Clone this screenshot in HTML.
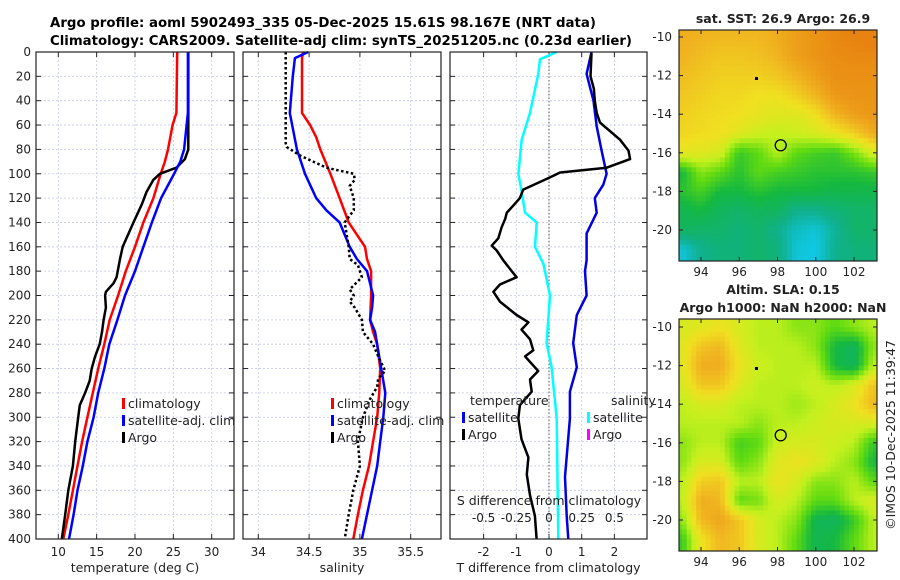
<!DOCTYPE html>
<html><head><meta charset="utf-8">
<style>
html,body{margin:0;padding:0;background:#fff;}
svg{display:block;font-family:"DejaVu Sans","Liberation Sans",sans-serif;}
</style></head>
<body>
<svg id="chart" width="900" height="580" viewBox="0 0 900 580" xmlns="http://www.w3.org/2000/svg">
<rect x="0" y="0" width="900" height="580" fill="#fff"/>
<text x="50" y="27" font-size="13" font-weight="bold" textLength="546" lengthAdjust="spacingAndGlyphs">Argo profile: aoml 5902493_335 05-Dec-2025 15.61S 98.167E (NRT data)</text>
<text x="50" y="45" font-size="13" font-weight="bold" textLength="582" lengthAdjust="spacingAndGlyphs">Climatology: CARS2009. Satellite-adj clim: synTS_20251205.nc (0.23d earlier)</text>
<g id="g"></g>
</svg>
<script>
// ---------- data ----------
const tempClimDepth = [0,50,60,80,90,100,120,140,160,180,200,220,240,260,280,300,320,340,360,380,400];
const tempClim = [25.5,25.4,24.9,24.3,23.9,23.35,22.4,21.1,20.0,18.8,17.8,16.7,16.0,15.2,14.5,13.8,13.1,12.5,11.9,11.3,10.65];
const tempSatDepth = [0,50,80,90,100,120,140,160,180,200,220,240,260,280,300,320,340,360,380,400];
const tempSat = [26.9,26.9,26.4,25.9,25.1,23.4,22.2,21.1,20.0,18.7,17.7,16.65,16.0,15.2,14.6,13.8,13.2,12.5,12.0,11.4];
const tempArgoDepth = [0,80,88,95,100,105,115,125,140,160,170,185,190,197,200,210,220,230,240,250,260,270,280,290,300,320,340,360,380,400];
const tempArgo = [26.95,26.95,26.5,25.4,23.25,22.4,21.5,20.9,19.8,18.4,18.05,17.6,17.2,16.2,16.1,16.2,15.9,15.7,15.4,14.8,14.35,14.1,13.5,12.8,12.6,12.2,11.9,11.3,10.9,10.45];

const salClimDepth = [0,5,50,60,70,80,100,120,140,160,170,180,200,220,230,240,260,280,300,320,340,360,380,400];
const salClim = [34.44,34.43,34.43,34.51,34.57,34.61,34.71,34.80,34.89,35.05,35.07,35.11,35.11,35.10,35.13,35.17,35.20,35.19,35.17,35.13,35.09,35.03,34.98,34.935];
const salSatDepth = [0,5,20,50,80,100,120,130,140,160,170,180,200,210,220,230,260,280,300,320,340,360,380,400];
const salSat = [34.49,34.36,34.34,34.31,34.38,34.46,34.57,34.67,34.80,34.90,34.97,35.07,35.13,35.12,35.10,35.15,35.21,35.25,35.23,35.20,35.17,35.12,35.07,35.02];
const salArgoDepth = [0,75,78,85,95,100,105,110,120,130,140,150,160,170,175,185,195,200,205,210,220,230,240,250,262,268,275,285,300,320,340,360,380,400];
const salArgo = [34.27,34.27,34.28,34.41,34.67,34.94,34.95,34.90,34.94,34.94,34.85,34.87,34.89,34.90,34.98,35.02,34.90,34.94,34.90,34.95,35.02,35.03,35.13,35.18,35.25,35.18,35.17,35.10,35.03,34.98,35.00,34.935,34.89,34.85];

const dTArgoDepth = [1,20,30,40,50,58,72,81,88,95,99,103,108,113,120,126,132,137,144,153,159,163,171,180,185,191,197,205,216,222,228,236,245,250,262,269,279,290,301,318,333,347,364,381,400];
const dTArgo = [1.30,1.27,1.37,1.40,1.46,1.56,2.17,2.43,2.48,1.76,0.34,0.03,-0.38,-0.79,-0.89,-1.09,-1.29,-1.34,-1.45,-1.55,-1.75,-1.6,-1.4,-1.14,-0.99,-1.5,-1.70,-1.5,-0.99,-0.63,-0.84,-0.58,-0.48,-0.73,-0.33,-0.58,-0.53,-0.89,-0.94,-0.84,-0.63,-0.68,-0.58,-0.43,-0.38];
const dTSatDepth = [0,18,40,61,81,100,109,120,132,149,171,180,200,208,216,239,259,279,301,349,381,400];
const dTSat = [1.30,1.15,1.36,1.46,1.61,1.76,1.66,1.40,1.46,1.15,1.15,1.10,1.15,1.00,0.85,0.74,0.85,0.64,0.64,0.49,0.54,0.59];
const dSSatDepth = [0,6,18,50,72,100,115,132,140,160,174,200,239,259,287,301,400];
const dSSat = [0.059,-0.069,-0.082,-0.145,-0.209,-0.234,-0.209,-0.183,-0.094,-0.107,-0.043,0.008,-0.018,0.02,0.046,0.059,0.071];

const depthTicks = [0,20,40,60,80,100,120,140,160,180,200,220,240,260,280,300,320,340,360,380,400];
const tempTicks = [10,15,20,25,30];
const salTicks = [34,34.5,35,35.5];
const salTickLabels = ["34","34.5","35","35.5"];
const dTTicks = [-2,-1,0,1,2];
const dSTicks = [-0.5,-0.25,0,0.25,0.5];
const dSTickLabels = ["-0.5","-0.25","0","0.25","0.5"];

const mapLons = [93,94,95,96,97,98,99,100,101,102,103];
const mapLats = [-10,-11,-12,-13,-14,-15,-16,-17,-18,-19,-20,-21];
const sstGrid = [
[0.78,0.76,0.75,0.75,0.75,0.78,0.82,0.85,0.88,0.90,0.92],
[0.76,0.74,0.72,0.72,0.73,0.76,0.82,0.85,0.87,0.88,0.88],
[0.74,0.72,0.70,0.70,0.70,0.72,0.76,0.82,0.86,0.86,0.86],
[0.72,0.70,0.68,0.68,0.66,0.66,0.70,0.76,0.84,0.85,0.85],
[0.70,0.68,0.67,0.66,0.64,0.62,0.62,0.66,0.76,0.82,0.84],
[0.68,0.67,0.66,0.62,0.58,0.56,0.58,0.60,0.64,0.70,0.78],
[0.64,0.62,0.60,0.40,0.45,0.55,0.45,0.42,0.40,0.48,0.60],
[0.35,0.50,0.45,0.38,0.45,0.42,0.40,0.38,0.38,0.38,0.40],
[0.38,0.42,0.35,0.35,0.38,0.35,0.35,0.35,0.33,0.33,0.33],
[0.32,0.35,0.30,0.28,0.30,0.30,0.22,0.22,0.25,0.28,0.28],
[0.30,0.28,0.28,0.25,0.28,0.22,0.15,0.12,0.20,0.28,0.28],
[0.12,0.22,0.25,0.25,0.28,0.25,0.12,0.10,0.22,0.25,0.25]];
const slaGrid = [
[0.60,0.62,0.65,0.60,0.55,0.55,0.50,0.50,0.45,0.50,0.55],
[0.62,0.72,0.75,0.62,0.55,0.55,0.55,0.50,0.35,0.30,0.50],
[0.62,0.78,0.78,0.65,0.58,0.55,0.55,0.55,0.35,0.30,0.55],
[0.60,0.72,0.72,0.62,0.55,0.55,0.55,0.58,0.55,0.60,0.72],
[0.55,0.60,0.60,0.55,0.55,0.55,0.52,0.55,0.60,0.65,0.75],
[0.55,0.55,0.55,0.55,0.50,0.55,0.55,0.58,0.60,0.60,0.60],
[0.50,0.55,0.55,0.42,0.45,0.58,0.60,0.60,0.58,0.55,0.40],
[0.50,0.60,0.60,0.45,0.50,0.62,0.65,0.62,0.55,0.50,0.35],
[0.55,0.70,0.72,0.55,0.55,0.65,0.60,0.50,0.50,0.55,0.45],
[0.55,0.78,0.75,0.45,0.48,0.60,0.55,0.45,0.45,0.55,0.60],
[0.50,0.75,0.80,0.72,0.60,0.55,0.50,0.32,0.30,0.40,0.55],
[0.40,0.65,0.75,0.72,0.60,0.55,0.45,0.32,0.35,0.45,0.55]];
const mapLonTicks = [94,96,98,100,102];
const mapLatTicks = [-10,-12,-14,-16,-18,-20];
const argoLon = 98.167, argoLat = -15.61;
const dotLon = 96.9, dotLat = -12.15;

// ---------- helpers ----------
const NS = "http://www.w3.org/2000/svg";
const G = document.getElementById('g');
function el(tag, attrs, parent){const e=document.createElementNS(NS,tag);for(const k in attrs)e.setAttribute(k,attrs[k]);(parent||G).appendChild(e);return e;}
function txt(x,y,s,size,anchor,parent){const t=el('text',{x:x,y:y,'font-size':size,'text-anchor':anchor||'middle',fill:'#222'},parent);t.textContent=s;return t;}

const Y0=52, Y1=539;
const yD = d => Y0 + d*(Y1-Y0)/400;

function panel(name,x0,x1,xs,ticks,labels,xlabel){
  const g=el('g',{});
  
  
  el('rect',{x:x0,y:Y0,width:x1-x0,height:Y1-Y0,fill:'#fff'},g);
  depthTicks.forEach(d=>{el('line',{x1:x0,x2:x1,y1:yD(d),y2:yD(d),stroke:'#c4c8e6','stroke-width':0.8,'stroke-dasharray':'2,2'},g);
    el('line',{x1:x0,x2:x0+5,y1:yD(d),y2:yD(d),stroke:'#222'},g);el('line',{x1:x1-5,x2:x1,y1:yD(d),y2:yD(d),stroke:'#222'},g);});
  ticks.forEach((v,i)=>{const x=xs(v);el('line',{x1:x,x2:x,y1:Y0,y2:Y1,stroke:'#c4c8e6','stroke-width':0.8,'stroke-dasharray':'2,2'},g);
    el('line',{x1:x,x2:x,y1:Y0,y2:Y0+5,stroke:'#222'},g);el('line',{x1:x,x2:x,y1:Y1-5,y2:Y1,stroke:'#222'},g);
    if(labels){const t=txt(x,556,labels[i],12,'middle',g);}});
  if(xlabel){const t=txt((x0+x1)/2,572,xlabel,12.5,'middle',g);}
  return g;
}
function line(g,depths,vals,xs,color,w,dash,name){
  const p=depths.map((d,i)=>(i?'L':'M')+xs(vals[i]).toFixed(1)+','+yD(d).toFixed(1)).join(' ');
  const e=el('path',{d:p,fill:'none',stroke:color,'stroke-width':w,'stroke-linejoin':'round'},g);
  if(dash)e.setAttribute('stroke-dasharray',dash);
  
  
}
function frame(g,x0,x1){el('rect',{x:x0,y:Y0,width:x1-x0,height:Y1-Y0,fill:'none',stroke:'#222','stroke-width':1.2},g);}
function legendItem(g,x,y,color,label,name){
  el('rect',{x:x,y:y-10,width:3,height:11,fill:color},g);
  const t=txt(x+6,y,label,12.5,'start',g);
  
  
}

depthTicks.forEach(d=>{const t=txt(31,yD(d)+4,String(d),12,'end');
  
  });

// panel 1: temperature
const xT = v => 58.3 + (v-10)*7.67;
const p1=panel('temperature-panel',36,234,xT,tempTicks,tempTicks.map(String),'temperature (deg C)');
line(p1,tempClimDepth,tempClim,xT,'#f00',2.5,null,'temp-climatology-line');
line(p1,tempArgoDepth,tempArgo,xT,'#000',2.5,null,'temp-argo-line');
line(p1,tempSatDepth,tempSat,xT,'#00f',2.5,null,'temp-satellite-line');
frame(p1,36,234);
legendItem(p1,122,408,'#f00','climatology','legend-climatology');
legendItem(p1,122,425,'#00f','satellite-adj. clim','legend-satellite');
legendItem(p1,122,442,'#000','Argo','legend-argo');

// panel 2: salinity
const xS = v => 258.3 + (v-34)*101.6;
const p2=panel('salinity-panel',243,441,xS,salTicks,salTickLabels,'salinity');
line(p2,salClimDepth,salClim,xS,'#f00',2.5,null,'sal-climatology-line');
line(p2,salSatDepth,salSat,xS,'#00f',2.5,null,'sal-satellite-line');
line(p2,salArgoDepth,salArgo,xS,'#000',2.5,'2.5,2.5','sal-argo-line');
frame(p2,243,441);
legendItem(p2,331,408,'#f00','climatology','legend-climatology');
legendItem(p2,331,425,'#00f','satellite-adj. clim','legend-satellite');
legendItem(p2,331,442,'#000','Argo','legend-argo');

// panel 3: differences
const xdT = v => 549 + v*32.7;
const xdS = v => 549 + v*4*32.7;
const p3=panel('difference-panel',450,647,xdT,dTTicks,dTTicks.map(String),'T difference from climatology');
el('line',{x1:xdT(0),x2:xdT(0),y1:Y0,y2:Y1,stroke:'#555','stroke-width':1,'stroke-dasharray':'1.5,2'},p3);
line(p3,dSSatDepth,dSSat,xdS,'#0ff',2.5,null,'sal-diff-satellite-line');
line(p3,dTSatDepth,dTSat,xdT,'#0000e0',2.5,null,'temp-diff-satellite-line');
line(p3,dTArgoDepth,dTArgo,xdT,'#000',2.5,null,'temp-diff-argo-line');
frame(p3,450,647);
txt(470,405,'temperature',12.5,'start',p3);
legendItem(p3,462,422,'#00f','satellite','legend-temp-satellite');
legendItem(p3,462,439,'#000','Argo','legend-temp-argo');
txt(611,405,'salinity',12.5,'start',p3);
legendItem(p3,587,422,'#0ff','satellite','legend-sal-satellite');
legendItem(p3,587,439,'#f0f','Argo','legend-sal-argo');
txt(549,505,'S difference from climatology',12.5,'middle',p3);
dSTicks.forEach((v,i)=>{const t=txt(xdS(v),522,dSTickLabels[i],12,'middle',p3);
  
  });

// ---------- maps ----------
const cstops=[[0.10,[16,200,230]],[0.22,[16,176,140]],[0.35,[20,184,64]],[0.46,[100,220,16]],[0.56,[196,240,30]],[0.66,[240,224,32]],[0.76,[240,180,32]],[0.90,[232,130,16]]];
function cmap(v){if(v<=cstops[0][0])return 'rgb('+cstops[0][1]+')';
  for(let i=1;i<cstops.length;i++){if(v<=cstops[i][0]){const a=cstops[i-1],b=cstops[i],t=(v-a[0])/(b[0]-a[0]);
    return 'rgb('+a[1].map((c,k)=>Math.round(c+(b[1][k]-c)*t)).join(',')+')';}}
  return 'rgb('+cstops[cstops.length-1][1]+')';}
function sample(grid,lon,lat){
  let fc=Math.max(0,Math.min(mapLons.length-1.0001,lon-mapLons[0]));
  let fr=Math.max(0,Math.min(mapLats.length-1.0001,mapLats[0]-lat));
  const c=Math.floor(fc),r=Math.floor(fr),tc=fc-c,tr=fr-r;
  const a=grid[r][c],b=grid[r][c+1],d=grid[r+1][c],e=grid[r+1][c+1];
  return (a*(1-tc)+b*tc)*(1-tr)+(d*(1-tc)+e*tc)*tr;
}
function drawMap(name,top,bottom,lat10y,lat20y,grid){
  const x0=679,x1=877;
  const xL = lon => 701 + (lon-94)*(854-701)/8;
  const yL = lat => lat10y + (-10-lat)*(lat20y-lat10y)/10;
  const g=el('g',{});
  
  
  const cid='clip-'+name;
  const cp=el('clipPath',{id:cid},g);el('rect',{x:x0,y:top,width:x1-x0,height:bottom-top},cp);
  const cg=el('g',{'clip-path':'url(#'+cid+')'},g);
  const step=0.25;
  for(let lat=-9.5;lat>-21.75;lat-=step){
    for(let lon=92.75;lon<103.5;lon+=step){
      const v=sample(grid,lon+step/2,lat-step/2);
      const xa=xL(lon), ya=yL(lat);
      const cell=el('rect',{x:xa.toFixed(1),y:ya.toFixed(1),width:(xL(lon+step)-xa+0.5).toFixed(1),height:(yL(lat-step)-ya+0.5).toFixed(1),fill:cmap(v)},cg);
      
      
    }
  }
  el('rect',{x:x0,y:top,width:x1-x0,height:bottom-top,fill:'none',stroke:'#222','stroke-width':1.2},g);
  mapLonTicks.forEach(l=>{const x=xL(l);el('line',{x1:x,x2:x,y1:top,y2:top+4,stroke:'#222'},g);el('line',{x1:x,x2:x,y1:bottom-4,y2:bottom,stroke:'#222'},g);
    txt(x,bottom+15,String(l),12,'middle',g);});
  mapLatTicks.forEach(l=>{const y=yL(l);el('line',{x1:x0,x2:x0+4,y1:y,y2:y,stroke:'#222'},g);el('line',{x1:x1-4,x2:x1,y1:y,y2:y,stroke:'#222'},g);
    txt(672,y+4,String(l),12,'end',g);});
  const c=el('circle',{cx:xL(argoLon),cy:yL(argoLat),r:5.5,fill:'none',stroke:'#000','stroke-width':1.3},g);
  
  
  el('rect',{x:xL(dotLon)-1.5,y:yL(dotLat)-1.5,width:3,height:3,fill:'#000'},g);
}
drawMap('sst-map',30,261,37,230,sstGrid);
drawMap('sla-map',319,551,327,520,slaGrid);
const t1=txt(783,23,'sat. SST: 26.9 Argo: 26.9',12.5,'middle');t1.setAttribute('font-weight','bold');


const t2=txt(783,294,'Altim. SLA: 0.15',12.5,'middle');t2.setAttribute('font-weight','bold');


const t3=txt(783,312,'Argo h1000: NaN h2000: NaN',12.5,'middle');t3.setAttribute('font-weight','bold');


const cr=txt(0,0,'©IMOS 10-Dec-2025 11:39:47',12.5,'middle');
cr.setAttribute('transform','translate(895,435) rotate(-90)');


</script>
</body></html>
